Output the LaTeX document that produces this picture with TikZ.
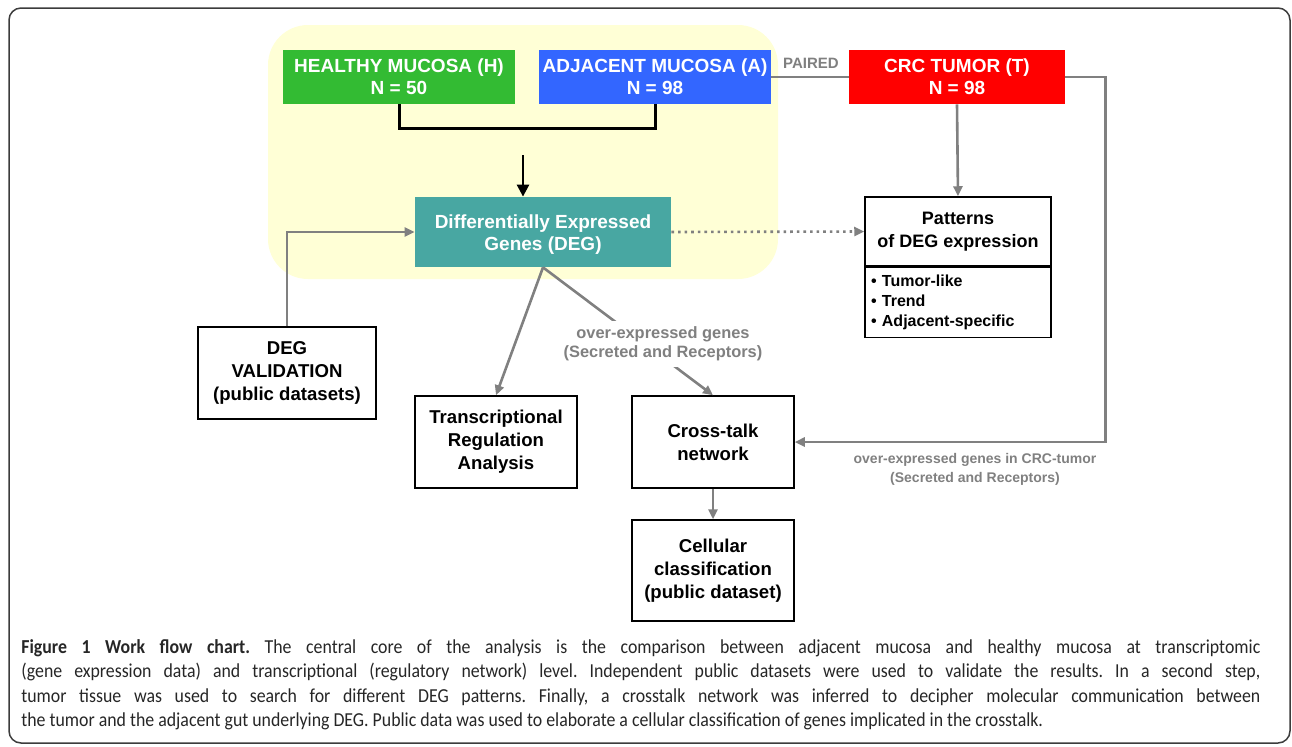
\documentclass[tikz,border=0pt]{standalone}
\usepackage{fontspec}
\setmainfont{Liberation Sans}
\newfontfamily\capfont[FakeStretch=0.9]{Carlito}
\usetikzlibrary{arrows.meta,positioning}

\definecolor{coregreen}{RGB}{51,187,51}
\definecolor{coreblue}{RGB}{51,102,255}
\definecolor{corered}{RGB}{255,0,0}
\definecolor{degteal}{RGB}{72,167,162}
\definecolor{coreyellow}{RGB}{255,255,214}
\definecolor{linegrey}{RGB}{128,128,128}
\definecolor{framegrey}{RGB}{60,60,60}

\tikzset{
  colbox/.style={text=white, inner sep=0pt, align=center,
    font=\bfseries\fontsize{9.5}{11}\selectfont},
  plainbox/.style={draw=black, line width=0.75pt, inner sep=0pt, align=center,
    font=\bfseries\fontsize{9.3}{11.5}\selectfont},
  greyline/.style={draw=linegrey, line width=1.3pt},
  greyarrow/.style={greyline, -{Triangle[length=5pt,width=4.5pt]}},
  greylabel/.style={text=linegrey, align=center,
    font=\bfseries\fontsize{7}{9.5}\selectfont}
}

\begin{document}
\frenchspacing
\begin{tikzpicture}[x=0.5pt,y=-0.5pt]
\useasboundingbox (0,0) rectangle (1292,746);
% frame and the yellow core
\draw[framegrey, line width=0.75pt, rounded corners=6pt] (9,8) rectangle (1290,743);
\fill[coreyellow, rounded corners=20pt] (268,25) rectangle (778,279);

% samples
\node[colbox, fill=coregreen, minimum width=116pt, minimum height=27pt] (healthy) at (399,77) {HEALTHY MUCOSA (H)\\N = 50};
\node[colbox, fill=coreblue, minimum width=116pt, minimum height=27pt] (adjacent) at (655,77) {ADJACENT MUCOSA (A)\\N = 98};
\node[colbox, fill=corered, minimum width=108pt, minimum height=27pt] (tumor) at (957,77) {CRC TUMOR (T)\\N = 98};
\node[colbox, fill=degteal, minimum width=128pt, minimum height=35pt] (deg) at (543,232) {\rule{0pt}{9pt}Differentially Expressed\\Genes (DEG)};

% analysis boxes
\node[plainbox, minimum width=93pt, minimum height=34.5pt, font=\bfseries\fontsize{9}{11.5}\selectfont] (patterns) at (958,231.5) {Patterns\\of DEG expression};
\node[plainbox, minimum width=93pt, minimum height=35pt, text width=87pt, align=left, anchor=north,
  font=\bfseries\fontsize{8}{10}\selectfont] (patlist) at (patterns.south) {\textbullet\ Tumor-like\\\textbullet\ Trend\\\textbullet\ Adjacent-specific};
\node[plainbox, minimum width=89pt, minimum height=46pt] (validation) at (287,373) {DEG\\VALIDATION\\(public datasets)};
\node[plainbox, minimum width=81pt, minimum height=46pt] (regulation) at (496,442) {Transcriptional\\Regulation\\Analysis};
\node[plainbox, minimum width=81pt, minimum height=46pt] (crosstalk) at (713,442) {Cross-talk\\network};
\node[plainbox, minimum width=81pt, minimum height=50.5pt] (cellular) at (713,570.5) {Cellular\\classification\\(public dataset)};

% connectors
\draw[black, line width=1.5pt] (healthy.south) -- ++(0,24) -| (adjacent.south);
\coordinate (mergetop) at (523,155);
\draw[black, line width=1.3pt, -{Triangle[length=6pt,width=6pt]}] (mergetop) -- (mergetop |- deg.north);
\draw[greyline] (adjacent.east) -- (tumor.west);
\node[greylabel, font=\bfseries\fontsize{7.5}{9}\selectfont] (paired) at (811,63) {PAIRED};
\draw[greyarrow] (validation.north) |- (deg.west);
\draw[greyarrow, dotted] (deg.east) -- (patterns.west);
\draw[greyarrow] (tumor.south) -- (patterns.north);
\draw[greyarrow] (tumor.east) -- ++(40,0) |- (crosstalk.east);
\draw[greyarrow] (deg.south) -- (regulation.north);
\draw[greyarrow] (deg.south) -- (crosstalk.north);
\draw[greyarrow] (crosstalk.south) -- (cellular.north);
\node[greylabel, fill=white, inner sep=3pt, font=\bfseries\fontsize{8.2}{9.5}\selectfont] (secreted) at (663,344) {over-expressed genes\\(Secreted and Receptors)};
\node[greylabel] (tumorgenes) at (975,469) {over-expressed genes in CRC-tumor\\(Secreted and Receptors)};

% caption
\node[anchor=north west, inner sep=0pt, text width=619.5pt, align=justify, text=black!85,
  font=\capfont\fontsize{9.9}{12.25}\selectfont] (caption) at (21,639)
  {\textbf{Figure 1 Work flow chart.} The central core of the analysis is the comparison between adjacent mucosa and healthy mucosa at transcriptomic\linebreak
  (gene expression data) and transcriptional (regulatory network) level. Independent public datasets were used to validate the results. In a second step,\linebreak
  tumor tissue was used to search for different DEG patterns. Finally, a crosstalk network was inferred to decipher molecular communication between\linebreak
  the tumor and the adjacent gut underlying DEG. Public data was used to elaborate a cellular classification of genes implicated in the crosstalk.};
\end{tikzpicture}
\end{document}
